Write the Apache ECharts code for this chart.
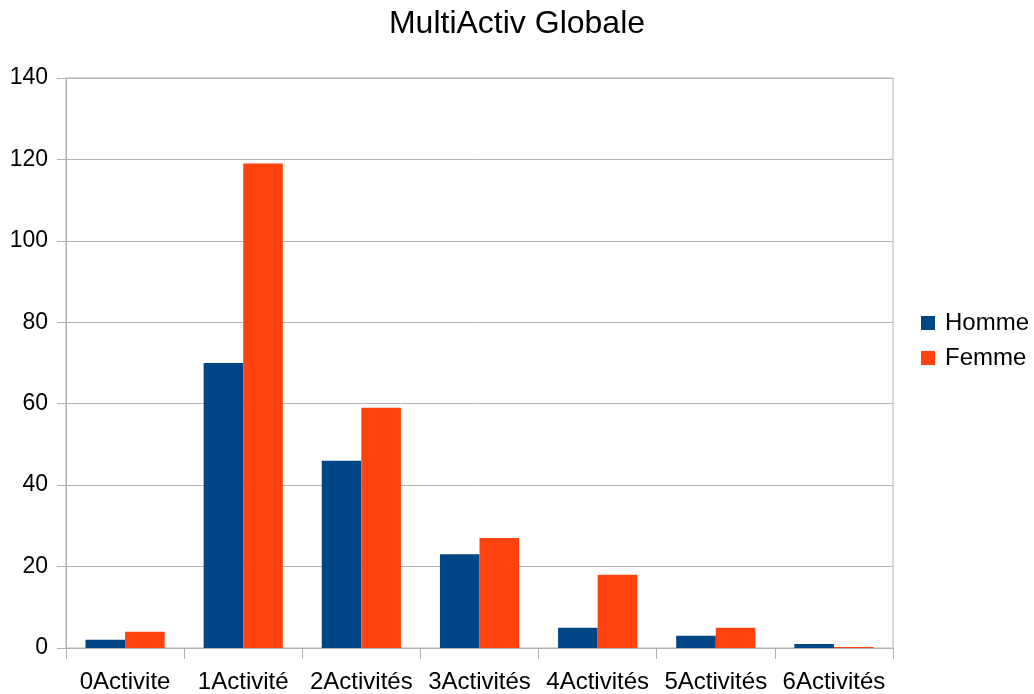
<!DOCTYPE html>
<html>
<head>
<meta charset="utf-8">
<script src="https://cdn.jsdelivr.net/npm/echarts@6/dist/echarts.min.js"></script>
<style>html,body{margin:0;padding:0;background:#fff}#c{width:1034px;height:694px}</style>
</head>
<body>
<div id="c"></div>
<script>
var categories = ['0Activite', '1Activité', '2Activités', '3Activités', '4Activités', '5Activités', '6Activités'];
var homme = [2, 70, 46, 23, 5, 3, 1];
var femme = [4, 119, 59, 27, 18, 5, 0];
var yTicks = [0, 20, 40, 60, 80, 100, 120, 140];

var chart = echarts.init(document.getElementById('c'));
var font = 'Liberation Sans, Arial, sans-serif';
chart.setOption({
  animation: false,
  textStyle: { fontFamily: font },
  title: {
    text: 'MultiActiv Globale',
    left: 'center',
    top: 3,
    textStyle: { fontFamily: font, fontSize: 32, fontWeight: 'normal', color: '#000' }
  },
  legend: {
    orient: 'vertical',
    left: 916,
    top: 306,
    itemWidth: 14,
    itemHeight: 14,
    itemGap: 11,
    icon: 'rect',
    textStyle: { fontFamily: font, fontSize: 24, color: '#000', padding: [0, 0, 0, 5] },
    data: ['Homme', 'Femme']
  },
  grid: {
    left: 66, right: 141, top: 78, bottom: 45,
    show: true, borderColor: '#b3b3b3', borderWidth: 1
  },
  xAxis: {
    type: 'category',
    data: categories,
    axisLine: { lineStyle: { color: '#b3b3b3' } },
    axisTick: { show: true, length: 11, lineStyle: { color: '#b3b3b3' } },
    axisLabel: { color: '#000', fontSize: 24, fontFamily: font, margin: 22, interval: 0 }
  },
  yAxis: {
    type: 'value',
    min: yTicks[0],
    max: yTicks[yTicks.length - 1],
    interval: 20,
    axisLine: { show: true, lineStyle: { color: '#b3b3b3' } },
    axisTick: { show: true, length: 9, lineStyle: { color: '#b3b3b3' } },
    axisLabel: { color: '#000', fontSize: 23, fontFamily: font, margin: 18 },
    splitLine: { lineStyle: { color: '#b3b3b3' } }
  },
  series: [
    { name: 'Homme', type: 'bar', data: homme, barGap: '0%', barCategoryGap: '33%', itemStyle: { color: '#004586' } },
    { name: 'Femme', type: 'bar', data: femme, barGap: '0%', barCategoryGap: '33%', barMinHeight: 1, itemStyle: { color: '#ff420e' } }
  ]
});
</script>
</body>
</html>
